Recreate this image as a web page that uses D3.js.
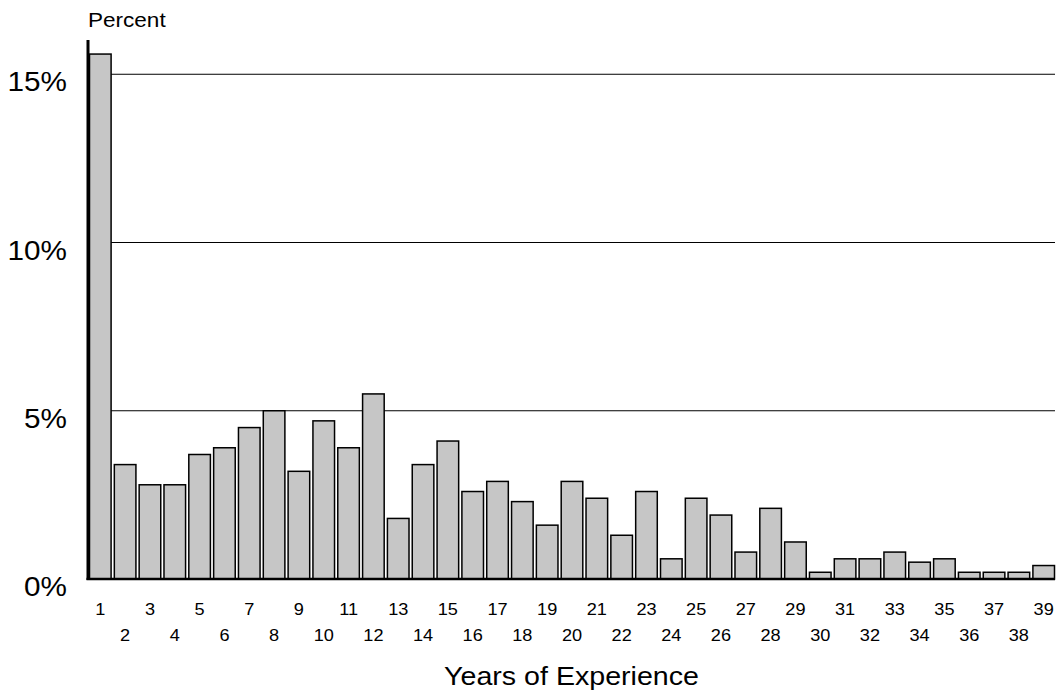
<!DOCTYPE html>
<html>
<head>
<meta charset="utf-8">
<script src="https://cdn.jsdelivr.net/npm/d3@7"></script>
<style>
  body { margin: 0; background: #fff; }
  svg text { font-family: "Liberation Sans", Arial, Helvetica, sans-serif; fill: #000; }
</style>
</head>
<body>
<svg id="chart" width="1058" height="694"></svg>
<script>
// years of experience (categories)
const years = d3.range(1, 40);
// percent of people at each year
const percents = [15.6, 3.4, 2.8, 2.8, 3.7, 3.9, 4.5, 5.0, 3.2, 4.7,
                  3.9, 5.5, 1.8, 3.4, 4.1, 2.6, 2.9, 2.3, 1.6, 2.9,
                  2.4, 1.3, 2.6, 0.6, 2.4, 1.9, 0.8, 2.1, 1.1, 0.2,
                  0.6, 0.6, 0.8, 0.5, 0.6, 0.2, 0.2, 0.2, 0.4];
const yTicks = [0, 5, 10, 15];
const gridTicks = [5, 10, 15];

const svg = d3.select('#chart');
const plotLeft = 88, plotRight = 1055, plotTop = 40, plotBottom = 579;
const sx = 1.1; // text in the picture runs a bit wide

const x = d3.scaleBand()
    .domain(years)
    .range([89.5, 1054.5])
    .paddingInner(0.13)
    .paddingOuter(0);

const y = d3.scaleLinear()
    .domain([0, 15])
    .range([plotBottom, plotBottom - 15 * 33.65]);

// gridlines sit behind the bars
svg.append('g').selectAll('line')
    .data(gridTicks)
    .enter().append('line')
    .attr('x1', plotLeft).attr('x2', plotRight)
    .attr('y1', d => y(d)).attr('y2', d => y(d))
    .attr('stroke', '#000')
    .attr('stroke-width', 1);

svg.append('g').selectAll('rect')
    .data(years)
    .enter().append('rect')
    .attr('x', d => x(d))
    .attr('y', (d, i) => y(percents[i]))
    .attr('width', x.bandwidth())
    .attr('height', (d, i) => y(0) - y(percents[i]))
    .attr('fill', '#c6c6c6')
    .attr('stroke', '#000')
    .attr('stroke-width', 1.5);

// axes lines
svg.append('line')
    .attr('x1', plotLeft).attr('x2', plotLeft)
    .attr('y1', plotTop).attr('y2', plotBottom + 1)
    .attr('stroke', '#000').attr('stroke-width', 3);
svg.append('line')
    .attr('x1', plotLeft - 1.5).attr('x2', plotRight)
    .attr('y1', plotBottom).attr('y2', plotBottom)
    .attr('stroke', '#000').attr('stroke-width', 2.5);

function label(g, tx, ty, size, anchor, txt) {
    return g.append('text')
        .attr('transform', 'translate(' + tx + ',' + ty + ') scale(' + sx + ',1)')
        .attr('font-size', size)
        .attr('text-anchor', anchor)
        .text(txt);
}

// y tick labels
const yl = svg.append('g');
yTicks.forEach(t => label(yl, 67, y(t) + 17, 27, 'end', t + '%'));

label(svg, plotLeft, 27, 20.5, 'start', 'Percent');

// x tick labels, odd on the first row, even on the second
const xl = svg.append('g');
years.forEach(d => {
    const cx = x(d) + x.bandwidth() / 2;
    label(xl, cx, d % 2 ? 615 : 641, 16.5, 'middle', d);
});

label(svg, (plotLeft + plotRight) / 2, 685, 26, 'middle', 'Years of Experience');
</script>
</body>
</html>
